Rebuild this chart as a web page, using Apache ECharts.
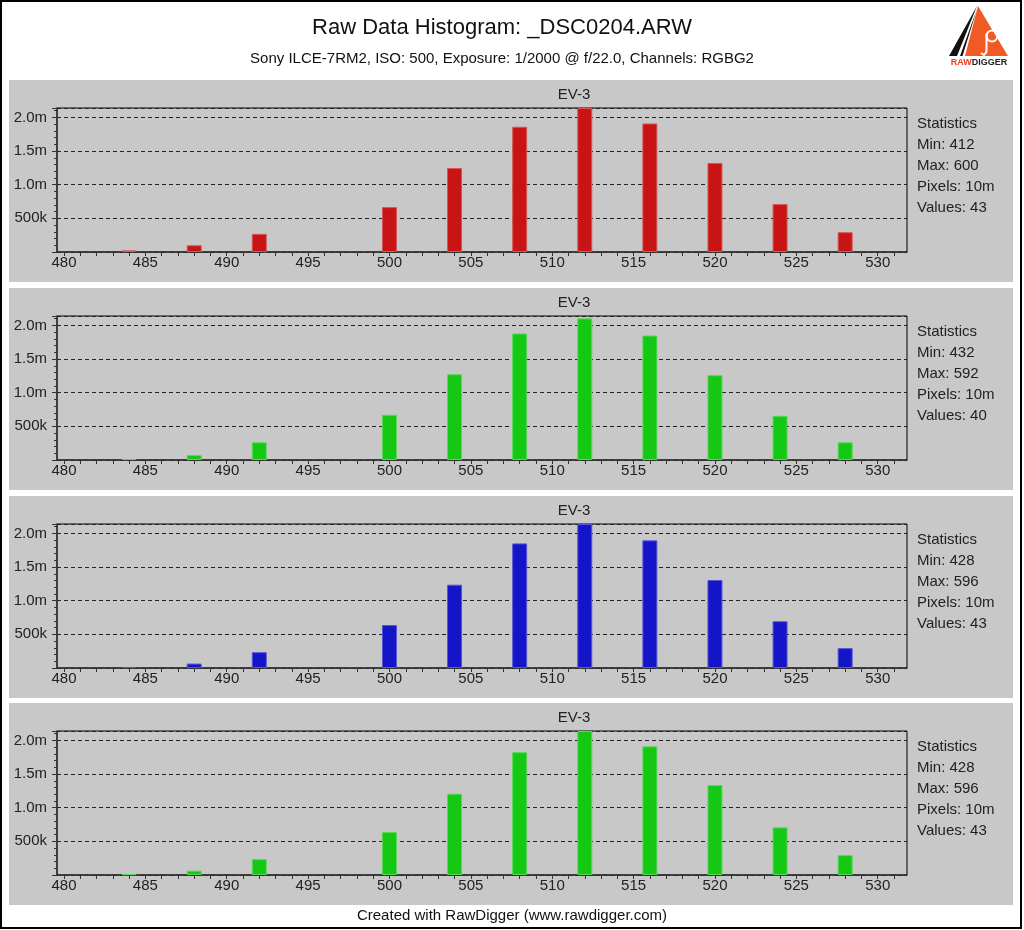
<!DOCTYPE html>
<html>
<head>
<meta charset="utf-8">
<script src="https://cdn.jsdelivr.net/npm/echarts@6/dist/echarts.min.js"></script>
<style>
html,body{margin:0;padding:0;background:#fff;}
#chart{width:1024px;height:930px;}
</style>
</head>
<body>
<div id="chart"></div>
<script>
// ---- data ----
const chartTitle = 'Raw Data Histogram: _DSC0204.ARW';
const chartSubtitle = 'Sony ILCE-7RM2, ISO: 500, Exposure: 1/2000 @ f/22.0, Channels: RGBG2';
const footerText = 'Created with RawDigger (www.rawdigger.com)';
const panelTitles = ['EV-3', 'EV-3', 'EV-3', 'EV-3'];

const binValues = [484, 488, 492, 500, 504, 508, 512, 516, 520, 524, 528];
const redCounts    = [25000, 100000, 270000, 667000, 1249000, 1861000, 2140000, 1910000, 1324000, 712000, 294000];
const greenCounts  = [15000, 73000, 263000, 672000, 1275000, 1880000, 2105000, 1850000, 1260000, 657000, 263000];
const blueCounts   = [15000, 66000, 235000, 639000, 1238000, 1852000, 2140000, 1897000, 1308000, 695000, 295000];
const green2Counts = [12000, 64000, 235000, 639000, 1208000, 1826000, 2140000, 1912000, 1337000, 708000, 295000];

const statMin = [412, 432, 428, 428];
const statMax = [600, 592, 596, 596];
const statPixels = ['10m', '10m', '10m', '10m'];
const statValues = [43, 40, 43, 43];

const xLabelValues = [480, 485, 490, 495, 500, 505, 510, 515, 520, 525, 530];
const xTickValues = [480,481,482,483,484,485,486,487,488,489,490,491,492,493,494,495,496,497,498,499,500,501,502,503,504,505,506,507,508,509,510,511,512,513,514,515,516,517,518,519,520,521,522,523,524,525,526,527,528,529,530,531];
const yTickLabels = ['', '500k', '1.0m', '1.5m', '2.0m'];
const X_MIN = 479.57, X_MAX = 531.8;
const Y_MAX = 2140000, Y_STEP = 500000;

// ---- style ----
const FONT = 'Arial, "Liberation Sans", sans-serif';
const channels = [
  {counts: redCounts,    color: '#c81414', border: '#d65656'},
  {counts: greenCounts,  color: '#14c814', border: '#5ad65a'},
  {counts: blueCounts,   color: '#1414c8', border: '#5656d6'},
  {counts: green2Counts, color: '#14c814', border: '#5ad65a'}
];
const panelTops = [80, 288, 496, 703];
const PANEL_H = 202;

const grids = [], xAxes = [], yAxes = [], series = [], graphics = [];

panelTops.forEach((pt, i) => {
  graphics.push({type: 'rect', z: -10, silent: true,
    shape: {x: 9, y: pt, width: 1004, height: PANEL_H},
    style: {fill: '#c8c8c8'}});
  graphics.push({type: 'text', z: 100, silent: true, x: 574, y: pt + 15,
    style: {text: panelTitles[i], font: '15px ' + FONT, fill: '#222', align: 'center', verticalAlign: 'middle'}});
  const lines = ['Statistics', 'Min: ' + statMin[i], 'Max: ' + statMax[i], 'Pixels: ' + statPixels[i], 'Values: ' + statValues[i]];
  lines.forEach((t, k) => {
    graphics.push({type: 'text', z: 100, silent: true, x: 917, y: pt + 44 + k * 21,
      style: {text: t, font: '15px ' + FONT, fill: '#222', align: 'left', verticalAlign: 'middle'}});
  });

  grids.push({left: 57, width: 850, top: pt + 28, height: 144,
    show: true, borderColor: '#000', borderWidth: 1, backgroundColor: 'transparent'});

  xAxes.push({
    gridIndex: i, type: 'value', min: X_MIN, max: X_MAX,
    axisLine: {show: true, onZero: false, lineStyle: {color: '#333', width: 1.5}},
    axisTick: {show: true, customValues: xTickValues, length: 4, lineStyle: {color: '#333'}},
    axisLabel: {show: true, customValues: xLabelValues, margin: 3, fontSize: 15, fontFamily: FONT, color: '#222',
      formatter: v => String(Math.round(v))},
    splitLine: {show: false}
  });

  yAxes.push({
    gridIndex: i, type: 'value', min: 0, max: Y_MAX, interval: Y_STEP,
    axisLine: {show: true, lineStyle: {color: '#333', width: 1.5}},
    axisTick: {show: true, length: 5, lineStyle: {color: '#333'}},
    minorTick: {show: true, splitNumber: 5, length: 3, lineStyle: {color: '#333'}},
    axisLabel: {margin: 10, fontSize: 15, fontFamily: FONT, color: '#222',
      formatter: v => {
        const k = Math.round(v / Y_STEP);
        return (Math.abs(v - k * Y_STEP) < 1 && yTickLabels[k] !== undefined) ? yTickLabels[k] : '';
      }},
    splitLine: {show: true, lineStyle: {type: [4, 3], color: '#222', width: 1}}
  });

  const ch = channels[i];
  series.push({
    type: 'bar', xAxisIndex: i, yAxisIndex: i, barWidth: 15, silent: true,
    data: binValues.map((b, j) => [b, ch.counts[j]]),
    itemStyle: {color: ch.color, borderColor: ch.border, borderWidth: 1}
  });
});

// titles & footer
graphics.push({type: 'text', z: 100, silent: true, x: 502, y: 28,
  style: {text: chartTitle, font: '22px ' + FONT, fill: '#111', align: 'center', verticalAlign: 'middle'}});
graphics.push({type: 'text', z: 100, silent: true, x: 502, y: 59,
  style: {text: chartSubtitle, font: '15px ' + FONT, fill: '#111', align: 'center', verticalAlign: 'middle'}});
graphics.push({type: 'text', z: 100, silent: true, x: 512, y: 916,
  style: {text: footerText, font: '15px ' + FONT, fill: '#111', align: 'center', verticalAlign: 'middle'}});

// logo
graphics.push({type: 'polygon', z: 100, silent: true, shape: {points: [[977, 6], [949, 56], [957, 56]]}, style: {fill: '#111'}});
graphics.push({type: 'polygon', z: 100, silent: true, shape: {points: [[977, 9], [960, 56], [962.5, 56]]}, style: {fill: '#111'}});
graphics.push({type: 'polygon', z: 100, silent: true, shape: {points: [[978, 6], [965, 56], [1008, 56]]}, style: {fill: '#f15a24'}});
graphics.push({type: 'circle', z: 101, silent: true, shape: {cx: 992, cy: 36, r: 5.5}, style: {fill: 'none', stroke: '#fff', lineWidth: 2}});
graphics.push({type: 'polyline', z: 101, silent: true, shape: {points: [[986.5, 34], [986.5, 52], [984, 55], [981, 53]]}, style: {fill: 'none', stroke: '#fff', lineWidth: 2}});
graphics.push({type: 'text', z: 101, silent: true, x: 979, y: 63,
  style: {text: '{r|RAW}{d|DIGGER}', align: 'center', verticalAlign: 'middle',
    rich: {r: {fontSize: 9, fontWeight: 'bold', fontFamily: FONT, fill: '#e8401c', color: '#e8401c'},
           d: {fontSize: 9, fontWeight: 'bold', fontFamily: FONT, fill: '#222', color: '#222'}}}});

// page border
graphics.push({type: 'rect', z: 100, silent: true, shape: {x: 1, y: 1, width: 1020, height: 927},
  style: {fill: 'none', stroke: '#000', lineWidth: 2}});

const chart = echarts.init(document.getElementById('chart'), null, {renderer: 'canvas'});
chart.setOption({
  animation: false,
  backgroundColor: '#ffffff',
  grid: grids,
  xAxis: xAxes,
  yAxis: yAxes,
  series: series,
  graphic: {elements: graphics}
});
</script>
</body>
</html>
